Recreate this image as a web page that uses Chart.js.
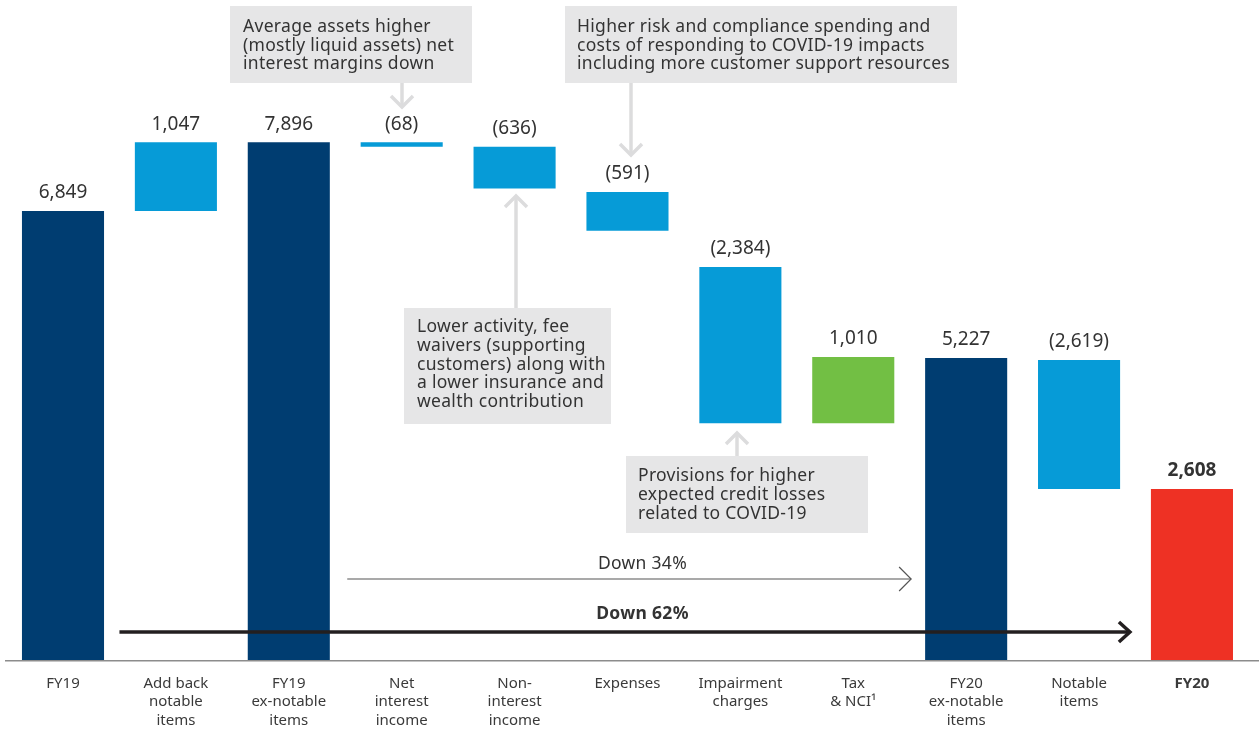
<!DOCTYPE html>
<html><head><meta charset="utf-8">
<script src="https://cdn.jsdelivr.net/npm/chart.js@4/dist/chart.umd.min.js"></script>
<style>html,body{margin:0;padding:0;background:#fff;overflow:hidden}#wrap{width:1259px;height:731px;position:relative}</style>
</head><body><div id="wrap"><canvas id="c" width="1259" height="731"></canvas></div>
<script>
// ---- data ----
const categories = [["FY19"],["Add back","notable","items"],["FY19","ex-notable","items"],["Net","interest","income"],["Non-","interest","income"],["Expenses"],["Impairment","charges"],["Tax","& NCI\u00B9"],["FY20","ex-notable","items"],["Notable","items"],["FY20"]];
// bar bottoms / tops as drawn in the reference (A$m)
const barStart = [0, 6849, 0, 7828, 7192, 6548, 3611, 3612, 0, 2608, 0];
const barEnd   = [6849, 7896, 7896, 7896, 7828, 7139, 5995, 4622, 4607, 4576, 2608];
const valueLabels = ["6,849","1,047","7,896","(68)","(636)","(591)","(2,384)","1,010","5,227","(2,619)","2,608"];
const barKinds = ["total","change","total","change","change","change","change","tax","total","change","final"];

const kindColors = {total:"#003D71", change:"#069BD7", tax:"#72BF44", final:"#EE3124"};
const FONT = "'Noto Sans', 'DejaVu Sans', sans-serif";

const notes = [
  {box:[230,6,472,83], lines:["Average assets higher","(mostly liquid assets) net","interest margins down"], tx:243, ty:27, arrow:{x:402, from:83, to:107}},
  {box:[565,6,957,83], lines:["Higher risk and compliance spending and","costs of responding to COVID-19 impacts","including more customer support resources"], tx:577, ty:27, arrow:{x:631, from:83, to:155}},
  {box:[404,308,611,424], lines:["Lower activity, fee","waivers (supporting","customers) along with","a lower insurance and","wealth contribution"], tx:417, ty:327.5, arrow:{x:516, from:308, to:196}},
  {box:[626,456,868,533], lines:["Provisions for higher","expected credit losses","related to COVID-19"], tx:638, ty:476.5, arrow:{x:737, from:456, to:433}}
];

function chevron(ctx, x, y, dx, dy, hw, len){
  const px = -dy, py = dx;
  ctx.beginPath();
  ctx.moveTo(x - dx*len + px*hw, y - dy*len + py*hw);
  ctx.lineTo(x, y);
  ctx.lineTo(x - dx*len - px*hw, y - dy*len - py*hw);
  ctx.stroke();
}

const deco = {
  id:'deco',
  afterDatasetsDraw(chart){
    const ctx = chart.ctx, xs = chart.scales.x, ys = chart.scales.y, ca = chart.chartArea;
    const meta = chart.getDatasetMeta(0);
    ctx.save();
    // axis line
    ctx.strokeStyle = '#8c8c8c'; ctx.lineWidth = 1.6;
    ctx.beginPath(); ctx.moveTo(5, ca.bottom + 0.8); ctx.lineTo(1259, ca.bottom + 0.8); ctx.stroke();
    // value labels
    ctx.textAlign = 'center'; ctx.textBaseline = 'middle'; ctx.fillStyle = '#333';
    meta.data.forEach((el, i) => {
      const top = ys.getPixelForValue(Math.max(barStart[i], barEnd[i]));
      ctx.font = (barKinds[i]==='final' ? 'bold ' : '') + '19px ' + FONT;
      ctx.fillText(valueLabels[i], el.x, top - 18);
    });
    // comparison arrows
    const half = (xs.getPixelForValue(1) - xs.getPixelForValue(0)) / 2;
    const bw = meta.data[0].width / 2;
    const y34 = 579, y62 = 632;
    const x34a = xs.getPixelForValue(3) - half + 2, x34b = xs.getPixelForValue(8) - bw - 14;
    ctx.strokeStyle = '#555'; ctx.lineWidth = 1.2;
    ctx.beginPath(); ctx.moveTo(x34a, y34); ctx.lineTo(x34b, y34); ctx.stroke();
    chevron(ctx, x34b, y34, 1, 0, 12, 12);
    const x62a = xs.getPixelForValue(1) - half, x62b = xs.getPixelForValue(10) - bw - 21;
    ctx.strokeStyle = '#231F20'; ctx.lineWidth = 3.5;
    ctx.beginPath(); ctx.moveTo(x62a, y62); ctx.lineTo(x62b - 2, y62); ctx.stroke();
    chevron(ctx, x62b, y62, 1, 0, 10, 11);
    ctx.fillStyle = '#333'; ctx.textAlign = 'center';
    const tx = xs.getPixelForValue(5) + 15;
    ctx.letterSpacing = '0.3px';
    ctx.font = '17.5px ' + FONT; ctx.fillText('Down 34%', tx, 564);
    ctx.font = 'bold 17.5px ' + FONT; ctx.fillText('Down 62%', tx, 614);
    // notes
    notes.forEach(n => {
      const [x0,y0,x1,y1] = n.box;
      ctx.fillStyle = '#E6E6E7'; ctx.fillRect(x0, y0, x1-x0, y1-y0);
      ctx.fillStyle = '#333'; ctx.textAlign = 'left'; ctx.textBaseline = 'middle';
      ctx.font = '17.5px ' + FONT;
      n.lines.forEach((l, k) => ctx.fillText(l, n.tx, n.ty + k*18.6));
      const a = n.arrow, dir = a.to > a.from ? 1 : -1;
      ctx.strokeStyle = '#DCDCDD'; ctx.lineWidth = 3.5;
      ctx.beginPath(); ctx.moveTo(a.x, a.from); ctx.lineTo(a.x, a.to - dir*1.5); ctx.stroke();
      chevron(ctx, a.x, a.to, 0, dir, 11, 11);
    });
    ctx.restore();
  }
};

new Chart(document.getElementById('c'), {
  type:'bar',
  data:{
    labels: categories,
    datasets:[{
      data: barStart.map((s,i) => [s, barEnd[i]]),
      backgroundColor: barKinds.map(k => kindColors[k]),
      borderWidth:0, barPercentage:0.727, categoryPercentage:1
    }]
  },
  options:{
    responsive:false, animation:false,
    layout:{padding:{left:6.55, right:10.6, top:4.43, bottom:0}},
    plugins:{legend:{display:false}, tooltip:{enabled:false}},
    scales:{
      x:{
        grid:{display:false, drawTicks:false}, border:{display:false},
        ticks:{color:'#3a3a3a', padding:14, maxRotation:0, autoSkip:false,
          font:(c) => ({family:FONT, size:15, lineHeight:1.24, weight:(c.index===10?'bold':'normal')})},
        afterFit(s){ s.height = 71; }
      },
      y:{display:false, min:0, max:10000}
    }
  },
  plugins:[deco]
});
</script></body></html>
